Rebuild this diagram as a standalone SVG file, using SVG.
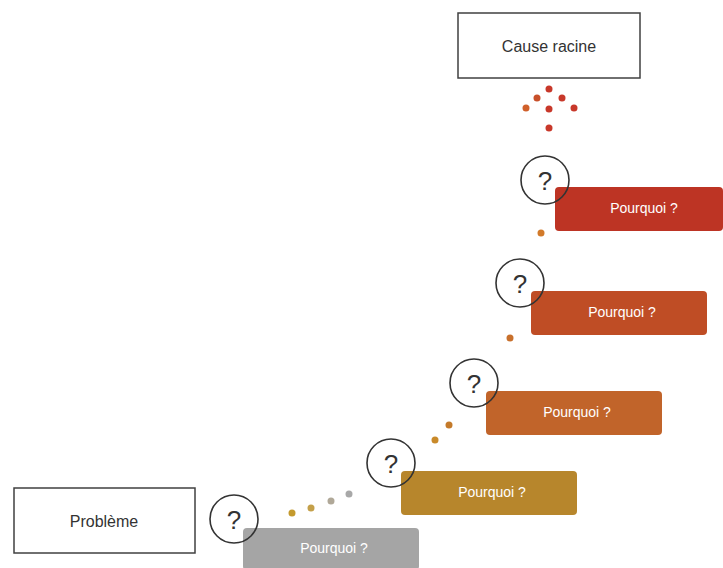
<svg xmlns="http://www.w3.org/2000/svg" width="723" height="568" viewBox="0 0 723 568">
<style>
.term rect{fill:#fff;stroke:#404040;stroke-width:1.5}
.term text{font-family:"Liberation Sans",Arial,sans-serif;font-size:16px;fill:#333;text-anchor:middle}
.why text{font-family:"Liberation Sans",Arial,sans-serif;font-size:14px;fill:#fff;text-anchor:middle}
.q circle{fill:none;stroke:#333;stroke-width:1.6}
.q text{font-family:"Liberation Sans",Arial,sans-serif;font-size:26px;fill:#333;text-anchor:middle}
</style>
<rect width="723" height="568" fill="#fff"/>
<g id="probleme" class="term"><rect x="14" y="488" width="181" height="65"/><text x="104" y="527">Problème</text></g>
<g id="cause" class="term"><rect x="458" y="13" width="182" height="65"/><text x="549" y="52">Cause racine</text></g>
<g id="why1" class="why"><rect x="243" y="528" width="176" height="42" rx="4" fill="#a5a5a5"/><text x="334" y="553">Pourquoi ?</text></g>
<g id="why2" class="why"><rect x="401" y="471" width="176" height="44" rx="4" fill="#b7862c"/><text x="492" y="497">Pourquoi ?</text></g>
<g id="why3" class="why"><rect x="486" y="391" width="176" height="44" rx="4" fill="#c1642a"/><text x="577" y="417">Pourquoi ?</text></g>
<g id="why4" class="why"><rect x="531" y="291" width="176" height="44" rx="4" fill="#bf4d25"/><text x="622" y="317">Pourquoi ?</text></g>
<g id="why5" class="why"><rect x="555" y="187" width="168" height="44" rx="4" fill="#bd3424"/><text x="644" y="213">Pourquoi ?</text></g>
<g id="q1" class="q"><circle cx="234" cy="519" r="24"/><text x="234" y="529">?</text></g>
<g id="q2" class="q"><circle cx="391" cy="463" r="24"/><text x="391" y="473">?</text></g>
<g id="q3" class="q"><circle cx="474" cy="383" r="24"/><text x="474" y="393">?</text></g>
<g id="q4" class="q"><circle cx="520" cy="283" r="24"/><text x="520" y="293">?</text></g>
<g id="q5" class="q"><circle cx="545" cy="180" r="24"/><text x="545" y="190">?</text></g>
<g id="connectors">
<circle cx="292" cy="513" r="3.5" fill="#c49a2e"/>
<circle cx="311" cy="508" r="3.5" fill="#c4a04a"/>
<circle cx="331" cy="501" r="3.5" fill="#b0a898"/>
<circle cx="349" cy="494" r="3.5" fill="#a8a8a8"/>
<circle cx="435" cy="440" r="3.5" fill="#c98a2a"/>
<circle cx="449" cy="425" r="3.5" fill="#c47a2a"/>
<circle cx="510" cy="338" r="3.5" fill="#c8702c"/>
<circle cx="541" cy="233" r="3.5" fill="#d27a2a"/>
<circle cx="549" cy="128" r="3.5" fill="#c8382a"/>
<circle cx="549" cy="109" r="3.5" fill="#c8382a"/>
<circle cx="549" cy="89" r="3.5" fill="#c8382a"/>
<circle cx="537" cy="98" r="3.5" fill="#c8502a"/>
<circle cx="526" cy="108" r="3.5" fill="#d0602a"/>
<circle cx="562" cy="98" r="3.5" fill="#c8382a"/>
<circle cx="574" cy="108" r="3.5" fill="#c8382a"/>
</g>
</svg>
